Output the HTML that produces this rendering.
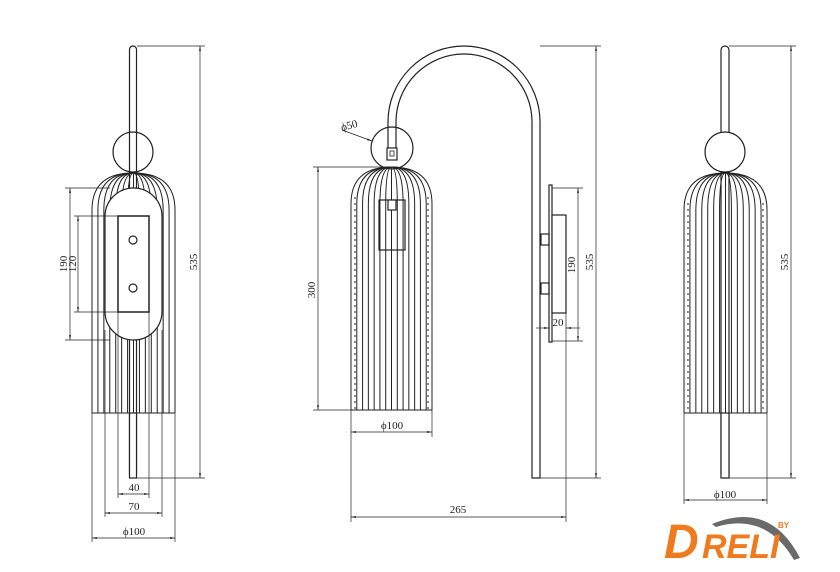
<!DOCTYPE html>
<html><head><meta charset="utf-8"><style>
html,body{margin:0;padding:0;background:#fff;}
svg{display:block;}
text{font-family:"Liberation Serif",serif;font-size:11px;fill:#222;}
</style></head><body>
<svg id="s" width="840" height="572" viewBox="0 0 840 572" xmlns="http://www.w3.org/2000/svg">
<defs>
<marker id="a" viewBox="0 0 10 10" refX="10" refY="5" markerWidth="7" markerHeight="7" orient="auto-start-reverse"><path d="M0,3 L10,5 L0,7 z" fill="#222"/></marker>
</defs>
<g id="draw" fill="none" stroke="#222" stroke-width="1.2">
<!-- LEFT VIEW -->
<rect x="129.5" y="46" width="7" height="432" rx="3.5" fill="#fff"/>
<circle cx="133" cy="152" r="20" fill="#fff"/>
<line x1="129.5" y1="130" x2="129.5" y2="174"/><line x1="136.5" y1="130" x2="136.5" y2="174"/>
<g id="ribL"></g>
<rect x="105" y="188" width="57" height="152" rx="28.5" fill="#fff"/>
<rect x="118" y="216" width="31" height="96" stroke-width="1.5" fill="#fff"/>
<circle cx="133" cy="240" r="4"/><circle cx="133" cy="288" r="4"/>
<rect x="129.5" y="413" width="7" height="65" fill="#fff"/>
<g stroke-width="0.7">
<line x1="137" y1="46" x2="205" y2="46"/><line x1="137" y1="478" x2="205" y2="478"/>
<line x1="200" y1="46" x2="200" y2="478" marker-start="url(#a)" marker-end="url(#a)"/>
<line x1="65" y1="188" x2="110" y2="188"/><line x1="65" y1="340" x2="110" y2="340"/>
<line x1="70" y1="188" x2="70" y2="340" marker-start="url(#a)" marker-end="url(#a)"/>
<line x1="74" y1="216" x2="118" y2="216"/><line x1="74" y1="312" x2="118" y2="312"/>
<line x1="78" y1="216" x2="78" y2="312" marker-start="url(#a)" marker-end="url(#a)"/>
<line x1="118" y1="312" x2="118" y2="498"/><line x1="149" y1="312" x2="149" y2="498"/>
<line x1="105" y1="330" x2="105" y2="517"/><line x1="162" y1="330" x2="162" y2="517"/>
<line x1="92" y1="413" x2="92" y2="542"/><line x1="175" y1="413" x2="175" y2="542"/>
<line x1="118" y1="494" x2="149" y2="494" marker-start="url(#a)" marker-end="url(#a)"/>
<line x1="105" y1="513" x2="162" y2="513" marker-start="url(#a)" marker-end="url(#a)"/>
<line x1="92" y1="538" x2="175" y2="538" marker-start="url(#a)" marker-end="url(#a)"/>
</g>
<!-- MIDDLE VIEW -->
<path d="M388,140 L388,122 A76,76 0 0 1 540,122 L540,478 L532,478 L532,122 A68,68 0 0 0 396,122 L396,140" fill="#fff"/>
<circle cx="392" cy="148" r="21" fill="#fff"/>
<line x1="388" y1="127" x2="388" y2="160"/><line x1="396" y1="127" x2="396" y2="160"/>
<rect x="387" y="148" width="10" height="12" fill="#fff"/>
<rect x="390" y="151" width="4" height="5" stroke-width="0.8"/>
<g id="ribM"></g>
<rect x="379" y="200" width="26" height="50" fill="none"/>
<rect x="388" y="200" width="8" height="10" fill="#fff"/>
<rect x="549" y="185" width="3" height="157" fill="#fff"/>
<rect x="552" y="215" width="14" height="98" fill="#fff"/>
<rect x="541" y="234" width="8" height="11"/><rect x="541" y="283" width="8" height="11"/>
<g stroke-width="0.7">
<line x1="540" y1="46" x2="601" y2="46"/><line x1="540" y1="478" x2="601" y2="478"/>
<line x1="596" y1="46" x2="596" y2="478" marker-start="url(#a)" marker-end="url(#a)"/>
<line x1="552" y1="188" x2="583" y2="188"/><line x1="552" y1="341" x2="583" y2="341"/>
<line x1="578" y1="188" x2="578" y2="341" marker-start="url(#a)" marker-end="url(#a)"/>
<line x1="536" y1="328" x2="549" y2="328" marker-end="url(#a)"/>
<line x1="580" y1="328" x2="566" y2="328" marker-end="url(#a)"/>
<line x1="566" y1="313" x2="566" y2="522"/>
<line x1="313" y1="167" x2="385" y2="167"/><line x1="313" y1="410" x2="351" y2="410"/>
<line x1="318" y1="167" x2="318" y2="410" marker-start="url(#a)" marker-end="url(#a)"/>
<line x1="351" y1="410" x2="351" y2="522"/><line x1="432" y1="410" x2="432" y2="437"/>
<line x1="351" y1="432" x2="432" y2="432" marker-start="url(#a)" marker-end="url(#a)"/>
<line x1="351" y1="517" x2="566" y2="517" marker-start="url(#a)" marker-end="url(#a)"/>
<line x1="342" y1="130" x2="372" y2="141" marker-end="url(#a)"/>
</g>
<!-- RIGHT VIEW -->
<rect x="721" y="46" width="8" height="432" rx="4" fill="#fff"/>
<circle cx="725" cy="152" r="20" fill="#fff"/>
<g id="ribR"></g>
<rect x="721" y="413" width="8" height="65" fill="#fff"/>
<g stroke-width="0.7">
<line x1="729" y1="46" x2="796" y2="46"/><line x1="729" y1="478" x2="796" y2="478"/>
<line x1="791" y1="46" x2="791" y2="478" marker-start="url(#a)" marker-end="url(#a)"/>
<line x1="684" y1="413" x2="684" y2="504"/><line x1="767" y1="413" x2="767" y2="504"/>
<line x1="684" y1="500" x2="767" y2="500" marker-start="url(#a)" marker-end="url(#a)"/>
</g>
</g>
<text x="197" y="262" transform="rotate(-90 197 262)" text-anchor="middle">535</text>
<text x="67" y="264" transform="rotate(-90 67 264)" text-anchor="middle">190</text>
<text x="76" y="264" transform="rotate(-90 76 264)" text-anchor="middle">120</text>
<text x="134" y="491" text-anchor="middle">40</text>
<text x="134" y="510" text-anchor="middle">70</text>
<text x="134" y="535" text-anchor="middle">ϕ100</text>
<text x="315" y="290" transform="rotate(-90 315 290)" text-anchor="middle">300</text>
<text x="392" y="429" text-anchor="middle">ϕ100</text>
<text x="458" y="513" text-anchor="middle">265</text>
<text x="575" y="265" transform="rotate(-90 575 265)" text-anchor="middle">190</text>
<text x="593" y="262" transform="rotate(-90 593 262)" text-anchor="middle">535</text>
<text x="558" y="326" text-anchor="middle">20</text>
<text x="342" y="131" transform="rotate(-15 342 131)">ϕ50</text>
<text x="788" y="262" transform="rotate(-90 788 262)" text-anchor="middle">535</text>
<text x="725" y="498" text-anchor="middle">ϕ100</text>
<path d="M712,524 Q770,500 800,558 L794,560 Q766,512 716,527 z" fill="#6a6a6a"/>
<text x="664" y="558" style="font-family:'Liberation Sans',sans-serif;font-weight:bold;font-style:italic;font-size:48px;fill:#f07a1e">D</text>
<text x="702" y="558" style="font-family:'Liberation Sans',sans-serif;font-weight:bold;font-style:italic;font-size:34px;fill:#f07a1e">RELI</text>
<text x="778" y="528" style="font-family:'Liberation Sans',sans-serif;font-weight:bold;font-size:8px;fill:#f07a1e">BY</text>
</svg>
<script>
function ribs(id,x0,x1,top,bot,n,dots){
 var g=document.getElementById(id),h='';
 var cx=(x0+x1)/2,dome=37;
 for(var i=0;i<=n;i++){
  var x=x0+(x1-x0)*i/n;
  h+='<path d="M'+cx+','+top+' Q'+x+','+top+' '+x+','+(top+dome)+' L'+x+','+bot+'"/>';
 }
 h+='<line x1="'+x0+'" y1="'+bot+'" x2="'+x1+'" y2="'+bot+'"/>';
 if(dots){
  h+='<line x1="'+(x0+4)+'" y1="'+(top+30)+'" x2="'+(x0+4)+'" y2="'+bot+'" stroke-dasharray="2 4"/>';
  h+='<line x1="'+(x1-4)+'" y1="'+(top+30)+'" x2="'+(x1-4)+'" y2="'+bot+'" stroke-dasharray="2 4"/>';
 }
 g.innerHTML=h;g.setAttribute('stroke-width','1');
}
ribs('ribL',92,175,173,413,14,false);
ribs('ribM',351,432,167,410,14,true);
ribs('ribR',684,767,173,413,14,true);
</script>
</body></html>
